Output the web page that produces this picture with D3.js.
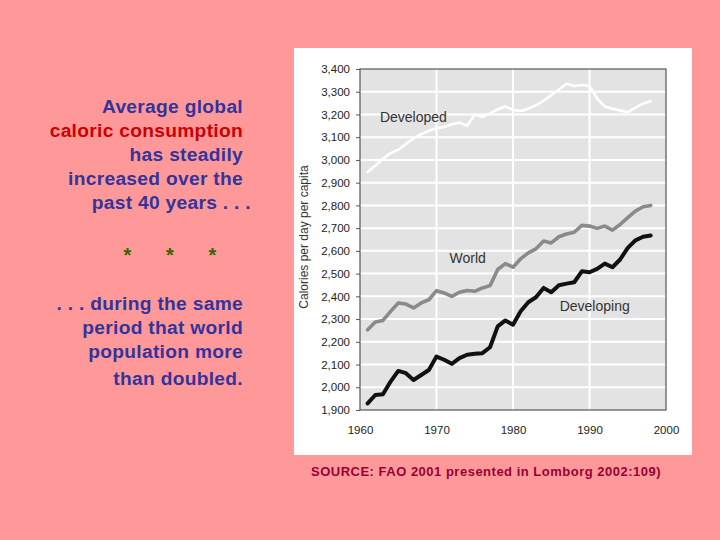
<!DOCTYPE html>
<html>
<head>
<meta charset="utf-8">
<script src="https://cdn.jsdelivr.net/npm/d3@7"></script>
<style>
  html, body { margin: 0; padding: 0; background: #FF9999; }
  svg { display: block; }
</style>
</head>
<body>
<svg id="chart" width="720" height="540"></svg>
<script>
// ---- Data ----
const years = [1961,1962,1963,1964,1965,1966,1967,1968,1969,1970,1971,1972,1973,1974,1975,1976,1977,1978,1979,1980,
               1981,1982,1983,1984,1985,1986,1987,1988,1989,1990,1991,1992,1993,1994,1995,1996,1997,1998];
const developed = [2947,2975,3005,3030,3045,3070,3095,3113,3128,3140,3145,3157,3165,3150,3200,3190,3205,3222,3235,3220,
                   3215,3225,3240,3260,3285,3310,3335,3325,3330,3325,3270,3235,3225,3218,3210,3230,3248,3258];
const world = [2253,2287,2294,2334,2371,2366,2349,2371,2385,2425,2415,2400,2418,2426,2422,2437,2447,2518,2544,2528,
               2565,2591,2609,2643,2635,2662,2674,2682,2712,2709,2699,2709,2691,2716,2746,2775,2794,2800];
const developing = [1929,1966,1969,2025,2072,2062,2032,2054,2076,2135,2121,2103,2128,2143,2147,2150,2176,2268,2294,2275,
                    2334,2374,2396,2437,2418,2449,2456,2462,2510,2506,2521,2544,2528,2562,2613,2646,2662,2668];
const yTicks = [1900,2000,2100,2200,2300,2400,2500,2600,2700,2800,2900,3000,3100,3200,3300,3400];
const xTicks = [1960,1970,1980,1990,2000];
const seriesNames = ["Developed","World","Developing"];
const yTitle = "Calories per day per capita";
const textTop = [
  {t:"Average global", c:"#333399"},
  {t:"caloric consumption", c:"#CC0000"},
  {t:"has steadily", c:"#333399"},
  {t:"increased over the", c:"#333399"},
  {t:"past 40 years . . .", c:"#333399"}
];
const textBottom = [". . . during the same","period that world","population more","than doubled."];
const sourceText = "SOURCE: FAO 2001 presented in Lomborg 2002:109)";

// ---- Layout ----
const svg = d3.select("#chart");
const pL = 360, pR = 666, pT = 69, pB = 410;
const x = d3.scaleLinear().domain([1960, 2000]).range([pL, pR]);
const y = d3.scaleLinear().domain([1900, 3400]).range([pB, pT]);
const font = "Arial, 'Liberation Sans', sans-serif";

// White box
svg.append("rect").attr("x", 294).attr("y", 48).attr("width", 398).attr("height", 407).attr("fill", "#ffffff");

// Plot background
svg.append("rect").attr("x", pL).attr("y", pT).attr("width", pR-pL).attr("height", pB-pT).attr("fill", "#e3e3e3");

// Gridlines
const g = svg.append("g");
g.selectAll("line.h").data(yTicks.slice(1, -1)).enter().append("line")
  .attr("x1", pL).attr("x2", pR).attr("y1", d => y(d)).attr("y2", d => y(d))
  .attr("stroke", "#ffffff").attr("stroke-width", 2);
g.selectAll("line.v").data(xTicks.slice(1, -1)).enter().append("line")
  .attr("y1", pT).attr("y2", pB).attr("x1", d => x(d)).attr("x2", d => x(d))
  .attr("stroke", "#ffffff").attr("stroke-width", 2);

// Lines
const pts = arr => arr.map((v, i) => [years[i], v]);
const line = d3.line().x(d => x(d[0])).y(d => y(d[1]));
const styles = [
  {data: developed, color: "#ffffff", w: 2.6},
  {data: world, color: "#8a8a8a", w: 3.6},
  {data: developing, color: "#111111", w: 4}
];
styles.forEach(s => {
  svg.append("path").datum(pts(s.data)).attr("d", line)
    .attr("fill", "none").attr("stroke", s.color).attr("stroke-width", s.w)
    .attr("stroke-linejoin", "round").attr("stroke-linecap", "round");
});

// Frame
svg.append("rect").attr("x", pL).attr("y", pT).attr("width", pR-pL).attr("height", pB-pT)
  .attr("fill", "none").attr("stroke", "#555555").attr("stroke-width", 1.2);

// Axes
const yAxis = svg.append("g").attr("transform", `translate(${pL},0)`)
  .call(d3.axisLeft(y).tickValues(yTicks).tickFormat(d3.format(",")).tickSize(4).tickPadding(6));
const xAxis = svg.append("g").attr("transform", `translate(0,${pB})`)
  .call(d3.axisBottom(x).tickValues(xTicks).tickFormat(d3.format("d")).tickSize(0).tickPadding(16));
[yAxis, xAxis].forEach(a => {
  a.select(".domain").remove();
  a.selectAll("line").attr("stroke", "#555555");
  a.selectAll("text").attr("fill", "#222222").style("font-family", font).style("font-size", "11.5px");
});

// Y title
svg.append("text").attr("transform", "translate(308,237) rotate(-90)")
  .attr("text-anchor", "middle").attr("fill", "#333333")
  .style("font-family", font).style("font-size", "12px")
  .text(yTitle);

// Series labels
const labelPos = [[1962.6, 3167], [1971.7, 2546], [1986.1, 2335]];
seriesNames.forEach((n, i) => {
  svg.append("text").attr("x", x(labelPos[i][0])).attr("y", y(labelPos[i][1]))
    .attr("fill", "#333333").style("font-family", font).style("font-size", "14px")
    .text(n);
});

// Left text
const topBase = [113, 137, 161, 185, 209];
textTop.forEach((d, i) => {
  svg.append("text").attr("x", i === 4 ? 251 : 243).attr("y", topBase[i]).attr("text-anchor", "end")
    .attr("fill", d.c).style("font-family", font).style("font-size", "19.2px").style("font-weight", "bold")
    .style("letter-spacing", "0.3px").text(d.t);
});
[127.5, 170, 212.5].forEach(cx => {
  svg.append("text").attr("x", cx).attr("y", 262).attr("text-anchor", "middle")
    .attr("fill", "#336600").style("font-family", font).style("font-size", "20px").style("font-weight", "bold").text("*");
});
const botBase = [310, 334, 358, 385];
textBottom.forEach((t, i) => {
  svg.append("text").attr("x", 243).attr("y", botBase[i]).attr("text-anchor", "end")
    .attr("fill", "#333399").style("font-family", font).style("font-size", "19.2px").style("font-weight", "bold")
    .style("letter-spacing", "0.3px").text(t);
});

// Source
svg.append("text").attr("x", 311).attr("y", 476).attr("fill", "#990033")
  .style("font-family", font).style("font-size", "13px").style("font-weight", "bold")
  .style("letter-spacing", "0.5px").text(sourceText);
</script>
</body>
</html>
